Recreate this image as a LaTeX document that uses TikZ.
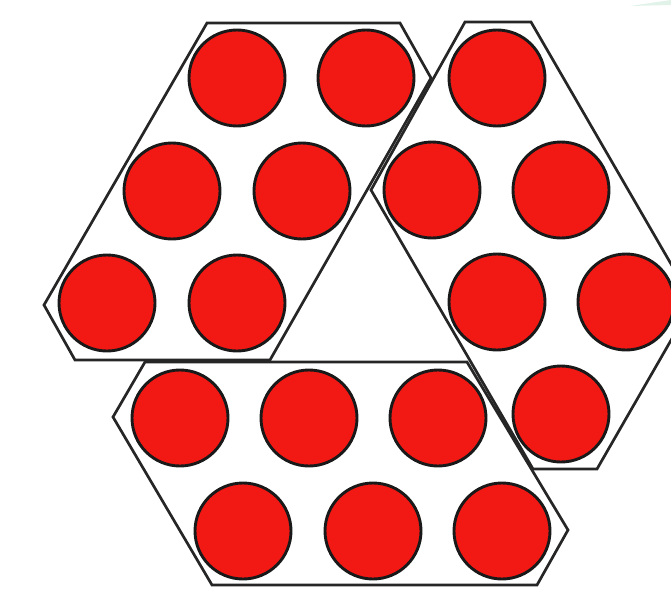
\documentclass[tikz,border=0pt]{standalone}
\usepackage{tikz}

\definecolor{ballred}{RGB}{242,24,20}
\definecolor{mint}{RGB}{225,242,232}

\tikzset{
  cell/.style={draw=black!85,line width=2.7pt,line join=miter},
  ball/.style={fill=ballred,draw=black!90,line width=2.9pt}
}

\begin{document}
\begin{tikzpicture}[x=1pt,y=-1pt]
  \useasboundingbox (0,0) rectangle (671,599);
  \clip (0,0) rectangle (671,599);
  \fill[mint] (630,6) -- (671,0) -- (671,5) -- cycle;
  % upper left cell
  \draw[cell] (207,23) -- (400,23) -- (431,78) -- (270,360) -- (75,360) -- (44,305) -- cycle;
  \draw[ball] (237,78) circle (48);
  \draw[ball] (366,78) circle (48);
  \draw[ball] (172,191) circle (48);
  \draw[ball] (302,191) circle (48);
  \draw[ball] (107,303) circle (48);
  \draw[ball] (237,303) circle (48);
  % right cell
  \draw[cell] (465,22) -- (531,22) -- (693,302) -- (597,469) -- (533,469) -- (371,190) -- cycle;
  \draw[ball] (497,78) circle (48);
  \draw[ball] (432,190) circle (48);
  \draw[ball] (561,190) circle (48);
  \draw[ball] (497,302) circle (48);
  \draw[ball] (626,302) circle (48);
  \draw[ball] (561,414) circle (48);
  % lower cell
  \draw[cell] (145,362) -- (467,362) -- (568,530) -- (537,585) -- (212,585) -- (113,417) -- cycle;
  \draw[ball] (180,418) circle (48);
  \draw[ball] (309,418) circle (48);
  \draw[ball] (438,418) circle (48);
  \draw[ball] (243,531) circle (48);
  \draw[ball] (373,531) circle (48);
  \draw[ball] (502,531) circle (48);
\end{tikzpicture}
\end{document}
